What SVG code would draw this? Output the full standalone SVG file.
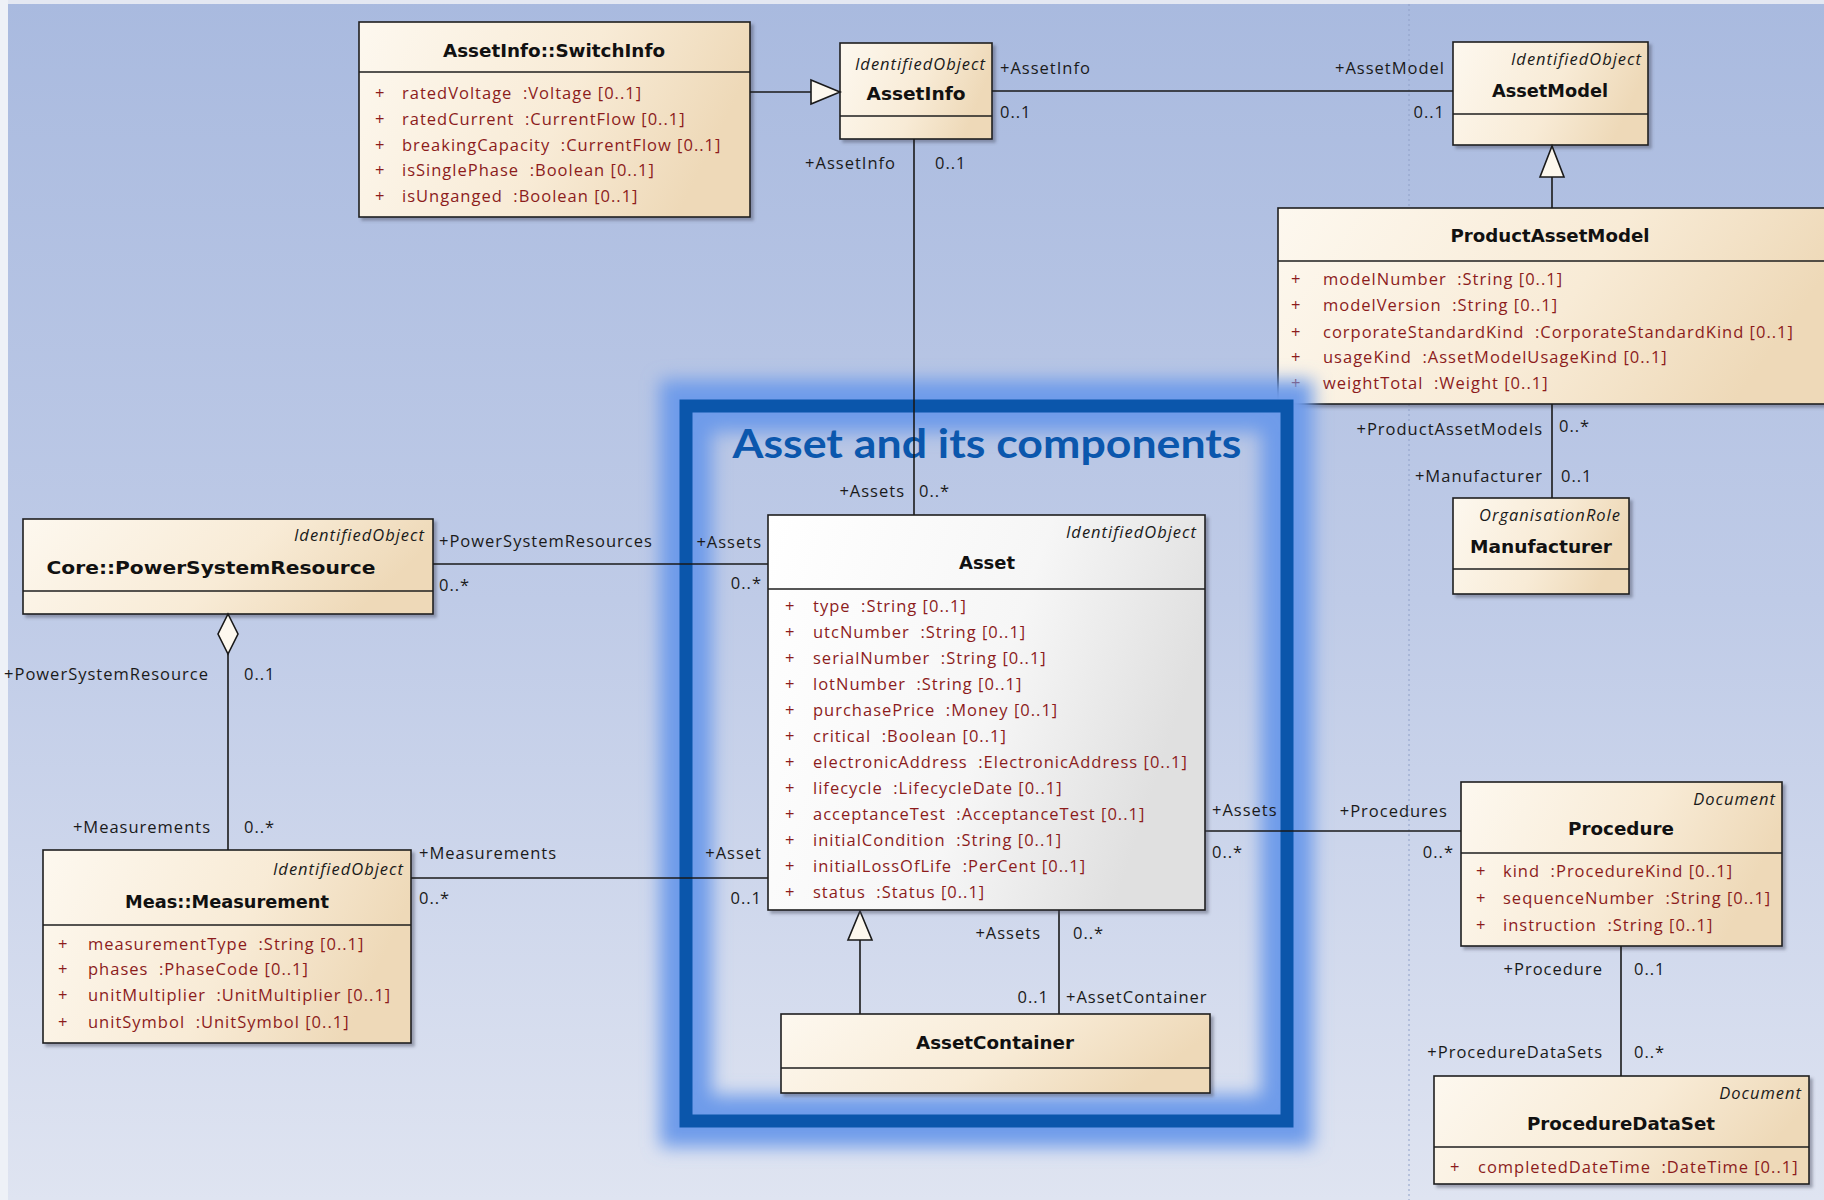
<svg xmlns="http://www.w3.org/2000/svg" width="1824" height="1200" viewBox="0 0 1824 1200">
<defs>
<linearGradient id="bg" x1="0" y1="0" x2="0" y2="1">
<stop offset="0" stop-color="#a9badf"/>
<stop offset="0.5" stop-color="#bfcbe7"/>
<stop offset="1" stop-color="#dfe4f1"/>
</linearGradient>
<linearGradient id="cream" x1="0" y1="0" x2="1" y2="0.25">
<stop offset="0" stop-color="#fdf8ef"/>
<stop offset="0.6" stop-color="#f8ebd6"/>
<stop offset="1" stop-color="#eed9b8"/>
</linearGradient>
<linearGradient id="grey" x1="0" y1="0" x2="1" y2="0.3">
<stop offset="0" stop-color="#ffffff"/>
<stop offset="0.6" stop-color="#f6f6f6"/>
<stop offset="1" stop-color="#e0e0e0"/>
</linearGradient>
<filter id="sh" x="-5%" y="-5%" width="115%" height="120%">
<feDropShadow dx="3" dy="3" stdDeviation="1.5" flood-color="#4a4f60" flood-opacity="0.45"/>
</filter>
<filter id="glow" x="-10%" y="-10%" width="120%" height="120%">
<feGaussianBlur stdDeviation="9"/>
</filter>
<style>
.box{stroke:#1e1e1e;stroke-width:1.6;fill:url(#cream)}
.gbox{stroke:#1e1e1e;stroke-width:1.6;fill:url(#grey)}
.div{stroke:#1e1e1e;stroke-width:1.6}
.ln{stroke:#1a1a1a;stroke-width:1.6;fill:none}
.tri{stroke:#1a1a1a;stroke-width:1.6;fill:#fdf8ee}
text{font-family:"Open Sans","DejaVu Sans",sans-serif;font-size:16.5px;letter-spacing:1px;fill:#1a1a1a;white-space:pre}
.t{font-family:"DejaVu Sans","Open Sans",sans-serif;font-weight:bold;font-size:17px;letter-spacing:0;text-anchor:middle;fill:#111}
.st{font-style:italic;text-anchor:end}
.at{fill:#8c1c1c}
.pl{fill:#8c1c1c}
.e{text-anchor:end}
.ttl{font-family:Lato,"Open Sans",sans-serif;font-weight:bold;font-size:40px;letter-spacing:0;fill:#0b57ad;text-anchor:middle}
</style>
</defs>

<rect x="0" y="0" width="1824" height="1200" fill="url(#bg)"/>
<rect x="0" y="0" width="1824" height="4" fill="#e4e8f2"/>
<rect x="0" y="0" width="8" height="1200" fill="#eef1f7"/>
<line x1="1409" y1="4" x2="1409" y2="1200" stroke="#8fa0c8" stroke-width="1" stroke-dasharray="2 3"/>

<g id="node-SwitchInfo">
<rect class="box" filter="url(#sh)" x="359" y="22" width="391" height="195"/>
<line class="div" x1="359" y1="72" x2="750" y2="72"/>
<text class="t" x="554" y="57" textLength="222" lengthAdjust="spacingAndGlyphs">AssetInfo::SwitchInfo</text>
<text class="pl" x="375" y="99">+</text><text class="at" x="402" y="99">ratedVoltage  :Voltage [0..1]</text>
<text class="pl" x="375" y="125">+</text><text class="at" x="402" y="125">ratedCurrent  :CurrentFlow [0..1]</text>
<text class="pl" x="375" y="151">+</text><text class="at" x="402" y="151">breakingCapacity  :CurrentFlow [0..1]</text>
<text class="pl" x="375" y="176">+</text><text class="at" x="402" y="176">isSinglePhase  :Boolean [0..1]</text>
<text class="pl" x="375" y="202">+</text><text class="at" x="402" y="202">isUnganged  :Boolean [0..1]</text>
</g>

<g id="node-AssetInfo">
<rect class="box" filter="url(#sh)" x="840" y="43" width="152" height="96"/>
<line class="div" x1="840" y1="116" x2="992" y2="116"/>
<text class="st" x="986" y="70">IdentifiedObject</text>
<text class="t" x="916" y="100" textLength="99" lengthAdjust="spacingAndGlyphs">AssetInfo</text>
</g>

<g id="node-AssetModel">
<rect class="box" filter="url(#sh)" x="1453" y="42" width="195" height="103"/>
<line class="div" x1="1453" y1="114" x2="1648" y2="114"/>
<text class="st" x="1642" y="65">IdentifiedObject</text>
<text class="t" x="1550" y="97" textLength="116" lengthAdjust="spacingAndGlyphs">AssetModel</text>
</g>

<g id="node-ProductAssetModel">
<rect class="box" filter="url(#sh)" x="1278" y="208" width="560" height="196"/>
<line class="div" x1="1278" y1="261" x2="1838" y2="261"/>
<text class="t" x="1550" y="242" textLength="199" lengthAdjust="spacingAndGlyphs">ProductAssetModel</text>
<text class="pl" x="1291" y="285">+</text><text class="at" x="1323" y="285">modelNumber  :String [0..1]</text>
<text class="pl" x="1291" y="311">+</text><text class="at" x="1323" y="311">modelVersion  :String [0..1]</text>
<text class="pl" x="1291" y="338">+</text><text class="at" x="1323" y="338">corporateStandardKind  :CorporateStandardKind [0..1]</text>
<text class="pl" x="1291" y="363">+</text><text class="at" x="1323" y="363">usageKind  :AssetModelUsageKind [0..1]</text>
<text class="pl" x="1291" y="389">+</text><text class="at" x="1323" y="389">weightTotal  :Weight [0..1]</text>
</g>

<g id="node-Manufacturer">
<rect class="box" filter="url(#sh)" x="1453" y="498" width="176" height="96"/>
<line class="div" x1="1453" y1="569" x2="1629" y2="569"/>
<text class="st" x="1621" y="521">OrganisationRole</text>
<text class="t" x="1541" y="553" textLength="142" lengthAdjust="spacingAndGlyphs">Manufacturer</text>
</g>

<g id="node-PowerSystemResource">
<rect class="box" filter="url(#sh)" x="23" y="519" width="410" height="95"/>
<line class="div" x1="23" y1="591" x2="433" y2="591"/>
<text class="st" x="425" y="541">IdentifiedObject</text>
<text class="t" x="211" y="574" textLength="329" lengthAdjust="spacingAndGlyphs">Core::PowerSystemResource</text>
</g>

<g id="node-Measurement">
<rect class="box" filter="url(#sh)" x="43" y="850" width="368" height="193"/>
<line class="div" x1="43" y1="925" x2="411" y2="925"/>
<text class="st" x="404" y="875">IdentifiedObject</text>
<text class="t" x="227" y="908" textLength="204" lengthAdjust="spacingAndGlyphs">Meas::Measurement</text>
<text class="pl" x="58" y="950">+</text><text class="at" x="88" y="950">measurementType  :String [0..1]</text>
<text class="pl" x="58" y="975">+</text><text class="at" x="88" y="975">phases  :PhaseCode [0..1]</text>
<text class="pl" x="58" y="1001">+</text><text class="at" x="88" y="1001">unitMultiplier  :UnitMultiplier [0..1]</text>
<text class="pl" x="58" y="1028">+</text><text class="at" x="88" y="1028">unitSymbol  :UnitSymbol [0..1]</text>
</g>

<g id="node-Procedure">
<rect class="box" filter="url(#sh)" x="1461" y="782" width="321" height="164"/>
<line class="div" x1="1461" y1="853" x2="1782" y2="853"/>
<text class="st" x="1776" y="805">Document</text>
<text class="t" x="1621" y="835" textLength="106" lengthAdjust="spacingAndGlyphs">Procedure</text>
<text class="pl" x="1476" y="877">+</text><text class="at" x="1503" y="877">kind  :ProcedureKind [0..1]</text>
<text class="pl" x="1476" y="904">+</text><text class="at" x="1503" y="904">sequenceNumber  :String [0..1]</text>
<text class="pl" x="1476" y="931">+</text><text class="at" x="1503" y="931">instruction  :String [0..1]</text>
</g>

<g id="node-ProcedureDataSet">
<rect class="box" filter="url(#sh)" x="1434" y="1076" width="375" height="108"/>
<line class="div" x1="1434" y1="1147" x2="1809" y2="1147"/>
<text class="st" x="1802" y="1099">Document</text>
<text class="t" x="1621" y="1130" textLength="188" lengthAdjust="spacingAndGlyphs">ProcedureDataSet</text>
<text class="pl" x="1450" y="1173">+</text><text class="at" x="1478" y="1173">completedDateTime  :DateTime [0..1]</text>
</g>

<g id="frame">
<rect x="686" y="406" width="601" height="715" fill="none" stroke="#6e9bea" stroke-width="52" filter="url(#glow)"/>
<rect x="686" y="406" width="601" height="715" fill="none" stroke="#0b56ab" stroke-width="13"/>
<text class="ttl" x="987" y="458" textLength="509" lengthAdjust="spacingAndGlyphs">Asset and its components</text>
</g>

<g id="connectors">
<line class="ln" x1="750" y1="92" x2="811" y2="92"/>
<polygon class="tri" points="811,80 840,92 811,104"/>
<line class="ln" x1="992" y1="91" x2="1453" y2="91"/>
<line class="ln" x1="1552" y1="208" x2="1552" y2="177"/>
<polygon class="tri" points="1552,146 1540,177 1564,177"/>
<line class="ln" x1="1552" y1="404" x2="1552" y2="498"/>
<line class="ln" x1="914" y1="139" x2="914" y2="515"/>
<line class="ln" x1="433" y1="564" x2="768" y2="564"/>
<polygon class="tri" points="228,614 238,634 228,654 218,634"/>
<line class="ln" x1="228" y1="654" x2="228" y2="850"/>
<line class="ln" x1="411" y1="878" x2="768" y2="878"/>
<line class="ln" x1="860" y1="1014" x2="860" y2="940"/>
<polygon class="tri" points="860,911 848,940 872,940"/>
<line class="ln" x1="1059" y1="910" x2="1059" y2="1014"/>
<line class="ln" x1="1205" y1="831" x2="1461" y2="831"/>
<line class="ln" x1="1621" y1="946" x2="1621" y2="1076"/>
<text x="1000" y="74">+AssetInfo</text>
<text x="1000" y="118">0..1</text>
<text class="e" x="1445" y="74">+AssetModel</text>
<text class="e" x="1445" y="118">0..1</text>
<text class="e" x="1543" y="435">+ProductAssetModels</text>
<text x="1559" y="432">0..*</text>
<text class="e" x="1543" y="482">+Manufacturer</text>
<text x="1561" y="482">0..1</text>
<text class="e" x="896" y="169">+AssetInfo</text>
<text x="935" y="169">0..1</text>
<text class="e" x="905" y="497">+Assets</text>
<text x="919" y="497">0..*</text>
<text x="439" y="547">+PowerSystemResources</text>
<text x="439" y="591">0..*</text>
<text class="e" x="762" y="548">+Assets</text>
<text class="e" x="762" y="589">0..*</text>
<text class="e" x="209" y="680">+PowerSystemResource</text>
<text x="244" y="680">0..1</text>
<text class="e" x="211" y="833">+Measurements</text>
<text x="244" y="833">0..*</text>
<text x="419" y="859">+Measurements</text>
<text x="419" y="904">0..*</text>
<text class="e" x="762" y="859">+Asset</text>
<text class="e" x="762" y="904">0..1</text>
<text class="e" x="1041" y="939">+Assets</text>
<text x="1073" y="939">0..*</text>
<text class="e" x="1049" y="1003">0..1</text>
<text x="1066" y="1003">+AssetContainer</text>
<text x="1212" y="816">+Assets</text>
<text x="1212" y="858">0..*</text>
<text class="e" x="1448" y="817">+Procedures</text>
<text class="e" x="1454" y="858">0..*</text>
<text class="e" x="1603" y="975">+Procedure</text>
<text x="1634" y="975">0..1</text>
<text class="e" x="1603" y="1058">+ProcedureDataSets</text>
<text x="1634" y="1058">0..*</text>
</g>

<g id="node-Asset">
<rect class="gbox" filter="url(#sh)" x="768" y="515" width="437" height="395"/>
<line class="div" x1="768" y1="589" x2="1205" y2="589"/>
<text class="st" x="1197" y="538">IdentifiedObject</text>
<text class="t" x="987" y="569" textLength="56" lengthAdjust="spacingAndGlyphs">Asset</text>
<text class="pl" x="785" y="612">+</text><text class="at" x="813" y="612">type  :String [0..1]</text>
<text class="pl" x="785" y="638">+</text><text class="at" x="813" y="638">utcNumber  :String [0..1]</text>
<text class="pl" x="785" y="664">+</text><text class="at" x="813" y="664">serialNumber  :String [0..1]</text>
<text class="pl" x="785" y="690">+</text><text class="at" x="813" y="690">lotNumber  :String [0..1]</text>
<text class="pl" x="785" y="716">+</text><text class="at" x="813" y="716">purchasePrice  :Money [0..1]</text>
<text class="pl" x="785" y="742">+</text><text class="at" x="813" y="742">critical  :Boolean [0..1]</text>
<text class="pl" x="785" y="768">+</text><text class="at" x="813" y="768">electronicAddress  :ElectronicAddress [0..1]</text>
<text class="pl" x="785" y="794">+</text><text class="at" x="813" y="794">lifecycle  :LifecycleDate [0..1]</text>
<text class="pl" x="785" y="820">+</text><text class="at" x="813" y="820">acceptanceTest  :AcceptanceTest [0..1]</text>
<text class="pl" x="785" y="846">+</text><text class="at" x="813" y="846">initialCondition  :String [0..1]</text>
<text class="pl" x="785" y="872">+</text><text class="at" x="813" y="872">initialLossOfLife  :PerCent [0..1]</text>
<text class="pl" x="785" y="898">+</text><text class="at" x="813" y="898">status  :Status [0..1]</text>
</g>

<g id="node-AssetContainer">
<rect class="box" filter="url(#sh)" x="781" y="1014" width="429" height="79"/>
<line class="div" x1="781" y1="1068" x2="1210" y2="1068"/>
<text class="t" x="995" y="1049" textLength="158" lengthAdjust="spacingAndGlyphs">AssetContainer</text>
</g>
</svg>
